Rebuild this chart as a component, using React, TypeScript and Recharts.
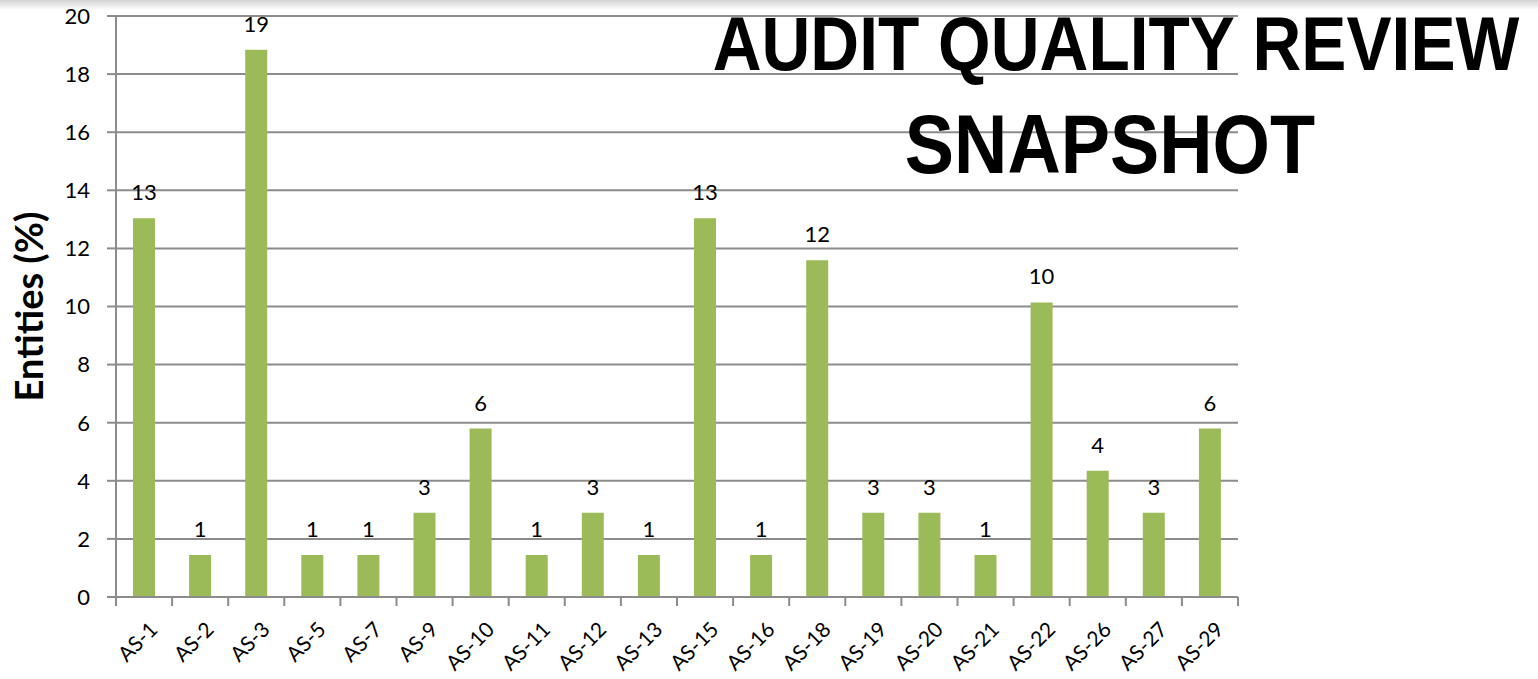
import { Bar, BarChart, CartesianGrid, LabelList, XAxis, YAxis } from 'recharts'

const categories = ['AS-1', 'AS-2', 'AS-3', 'AS-5', 'AS-7', 'AS-9', 'AS-10', 'AS-11', 'AS-12', 'AS-13', 'AS-15', 'AS-16', 'AS-18', 'AS-19', 'AS-20', 'AS-21', 'AS-22', 'AS-26', 'AS-27', 'AS-29']
const entityPct = [13.04, 1.45, 18.84, 1.45, 1.45, 2.9, 5.8, 1.45, 2.9, 1.45, 13.04, 1.45, 11.59, 2.9, 2.9, 1.45, 10.14, 4.35, 2.9, 5.8]
const yTicks = [0, 2, 4, 6, 8, 10, 12, 14, 16, 18, 20]

const data = categories.map((name, i) => ({ name, value: entityPct[i] }))

const W = 1538
const H = 679
const MARGIN = { top: 16, right: 300, bottom: 0, left: 40 }
const Y_AXIS_W = 76
const X_AXIS_H = 82
const PLOT_W = W - MARGIN.left - MARGIN.right - Y_AXIS_W
const AXIS_Y = H - MARGIN.bottom - X_AXIS_H
const FONT = 'Lato, "Open Sans", sans-serif'
const TITLE_FONT = '"Liberation Sans", Arial, sans-serif'
const GRID = '#8c8c8c'

function XTick(props: any) {
  const { x, payload, index } = props
  const bw = PLOT_W / categories.length
  const left = x - bw / 2
  const last = index === categories.length - 1
  const tx = x + 3
  const ty = AXIS_Y + 22
  return (
    <g>
      <line x1={left} x2={left} y1={AXIS_Y} y2={AXIS_Y + 9} stroke={GRID} strokeWidth={2} />
      {last && <line x1={left + bw} x2={left + bw} y1={AXIS_Y} y2={AXIS_Y + 9} stroke={GRID} strokeWidth={2} />}
      <text
        x={tx}
        y={ty}
        textAnchor="end"
        dominantBaseline="hanging"
        transform={`rotate(-45 ${tx} ${ty})`}
        fill="#000"
        fontSize={21}
        fontFamily={FONT}
      >
        {payload.value}
      </text>
    </g>
  )
}

const titleLine = (text: string, size: number, top: number, center: number) => (
  <div
    style={{
      position: 'absolute',
      left: center - 600,
      top,
      width: 1200,
      textAlign: 'center',
      whiteSpace: 'nowrap',
      fontFamily: TITLE_FONT,
      fontWeight: 700,
      fontSize: size,
      lineHeight: 1,
      color: '#000',
      transform: 'scaleX(0.89)',
    }}
  >
    {text}
  </div>
)

export default function App() {
  return (
    <div style={{ position: 'absolute', left: 0, top: 0, width: W, height: H, background: '#fff', overflow: 'hidden' }}>
      <div
        style={{
          position: 'absolute',
          left: 0,
          top: 0,
          width: W,
          height: 10,
          background: 'linear-gradient(#d4d4d4, rgba(255,255,255,0))',
          zIndex: 2,
        }}
      />
      <BarChart width={W} height={H} data={data} margin={MARGIN}>
        <CartesianGrid vertical={false} stroke={GRID} strokeWidth={2} />
        <XAxis
          dataKey="name"
          interval={0}
          height={X_AXIS_H}
          axisLine={{ stroke: GRID, strokeWidth: 2 }}
          tickLine={false}
          tick={<XTick />}
        />
        <YAxis
          domain={[0, 20]}
          ticks={yTicks}
          width={Y_AXIS_W}
          axisLine={{ stroke: GRID, strokeWidth: 2 }}
          tickLine={{ stroke: GRID, strokeWidth: 2 }}
          tickSize={9}
          tickMargin={17}
          tick={{ fill: '#000', fontSize: 22, fontFamily: FONT }}
          label={{
            value: 'Entities (%)',
            angle: -90,
            position: 'insideLeft',
            dx: -15,
            style: { fill: '#000', fontSize: 38, fontWeight: 700, fontFamily: FONT, textAnchor: 'middle' },
          }}
        />
        <Bar dataKey="value" fill="#9bbb59" barSize={22} isAnimationActive={false}>
          <LabelList
            dataKey="value"
            position="top"
            offset={18}
            formatter={(v: any) => Math.round(Number(v))}
            fill="#000"
            fontSize={22}
            fontFamily={FONT}
          />
        </Bar>
      </BarChart>
      {titleLine('AUDIT QUALITY REVIEW', 76, 6, 1116)}
      {titleLine('SNAPSHOT', 83, 103, 1110)}
    </div>
  )
}
